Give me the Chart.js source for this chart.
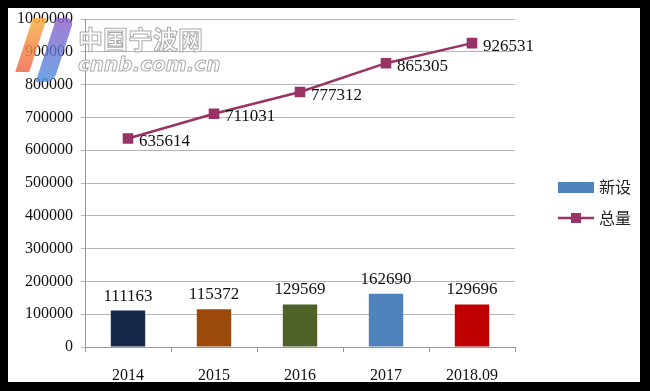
<!DOCTYPE html>
<html>
<head>
<meta charset="utf-8">
<script src="https://cdn.jsdelivr.net/npm/chart.js@4.4.0/dist/chart.umd.min.js"></script>
<style>
    html, body { margin: 0; padding: 0; background: #000; width: 650px; height: 391px; overflow: hidden; }
    .frame { position: absolute; left: 8px; top: 8px; width: 632px; height: 374px; background: #fff; }
    .mark { position: absolute; z-index: 2; pointer-events: none; }
    .mark-cn { left: 70px; top: 12px; font: bold 25px "Noto Sans CJK SC", sans-serif; color: rgba(255,255,255,0.9);
        -webkit-text-stroke: 1px rgba(150,150,150,0.8); letter-spacing: 0px; }
    .mark-url { left: 70px; top: 44px; font: italic bold 20px "DejaVu Sans", sans-serif; color: rgba(255,255,255,0.9);
        -webkit-text-stroke: 1px rgba(150,150,150,0.8); }
    .logo-a { left: 16px; top: 10px; width: 14px; height: 54px; transform: skewX(-18deg);
        background: linear-gradient(#f7b040, #f06a50); opacity: 0.85; }
    .logo-b { left: 38px; top: 10px; width: 18px; height: 64px; transform: skewX(-18deg);
        background: linear-gradient(#8a5cc8, #4a8ee0); opacity: 0.8; border-radius: 0 8px 8px 0; }
</style>
</head>
<body>
<div class="frame">
    <canvas id="chart"></canvas>
    <div class="mark logo-a"></div>
    <div class="mark logo-b"></div>
    <div class="mark mark-cn">中国宁波网</div>
    <div class="mark mark-url">cnnb.com.cn</div>
</div>
<script>
// 데이터
const categories = ['2014', '2015', '2016', '2017', '2018.09'];
const newValues = [111163, 115372, 129569, 162690, 129696];
const totalValues = [635614, 711031, 777312, 865305, 926531];
const barColors = ['#17294a', '#9c4a0c', '#4f6228', '#4f81bd', '#c00000'];
const legendBarColor = '#4f81bd';
const lineColor = '#993366';
const yTicks = { min: 0, max: 1000000, step: 100000 };

const numFont = '"Liberation Serif", "DejaVu Serif", serif';
const cjkFont = '"Noto Sans CJK SC", sans-serif';

// 막대/선 값 라벨 + 오른쪽 범례
const labelPlugin = {
    id: 'labels',
    afterDatasetsDraw(chart) {
        const ctx = chart.ctx;
        ctx.save();
        ctx.fillStyle = '#111';
        ctx.font = '17px ' + numFont;

        chart.getDatasetMeta(0).data.forEach((el, i) => {
            ctx.textAlign = 'center';
            ctx.textBaseline = 'bottom';
            ctx.fillText(String(newValues[i]), el.x, el.y - 6);
        });
        chart.getDatasetMeta(1).data.forEach((el, i) => {
            ctx.textAlign = 'left';
            ctx.textBaseline = 'middle';
            ctx.fillText(String(totalValues[i]), el.x + 11, el.y + 3);
        });

        // 범례
        const lx = 550, ly1 = 179, ly2 = 210;
        ctx.fillStyle = legendBarColor;
        ctx.fillRect(lx, ly1 - 5, 36, 11);
        ctx.strokeStyle = lineColor;
        ctx.lineWidth = 2.5;
        ctx.beginPath();
        ctx.moveTo(lx, ly2);
        ctx.lineTo(lx + 36, ly2);
        ctx.stroke();
        ctx.fillStyle = lineColor;
        ctx.fillRect(lx + 13, ly2 - 5, 10, 10);

        ctx.fillStyle = '#222';
        ctx.font = '16px ' + cjkFont;
        ctx.textAlign = 'left';
        ctx.textBaseline = 'middle';
        ctx.fillText(chart.data.datasets[0].label, lx + 41, ly1);
        ctx.fillText(chart.data.datasets[1].label, lx + 41, ly2);
        ctx.restore();
    }
};

const ctx = document.getElementById('chart').getContext('2d');
new Chart(ctx, {
    data: {
        labels: categories,
        datasets: [{
            type: 'bar',
            label: '新设',
            data: newValues,
            backgroundColor: barColors,
            barPercentage: 0.4,
            categoryPercentage: 1.0,
            order: 2
        }, {
            type: 'line',
            label: '总量',
            data: totalValues,
            borderColor: lineColor,
            backgroundColor: lineColor,
            borderWidth: 2.5,
            pointStyle: 'rect',
            pointRadius: 7.5,
            pointBackgroundColor: lineColor,
            pointBorderWidth: 0,
            tension: 0,
            order: 1
        }]
    },
    options: {
        responsive: true,
        maintainAspectRatio: false,
        animation: false,
        layout: { padding: { left: 0, right: 125, top: 11, bottom: 0 } },
        plugins: { legend: { display: false }, tooltip: { enabled: false } },
        scales: {
            x: {
                afterFit: scale => { scale.height = 35; },
                grid: { offset: true, drawOnChartArea: false, drawTicks: true, tickLength: 5, color: '#999' },
                border: { color: '#999' },
                ticks: { padding: 14, color: '#111', font: { family: numFont, size: 16 } }
            },
            y: {
                min: yTicks.min,
                max: yTicks.max,
                afterFit: scale => {
                    scale.width = 77;
                    scale.paddingTop = 0;
                    scale.paddingBottom = 0;
                },
                grid: { color: '#b5b5b5', tickLength: 4 },
                border: { color: '#999' },
                ticks: {
                    stepSize: yTicks.step,
                    padding: 8,
                    color: '#111',
                    font: { family: numFont, size: 16 },
                    callback: v => String(v)
                }
            }
        }
    },
    plugins: [labelPlugin]
});
</script>
</body>
</html>
